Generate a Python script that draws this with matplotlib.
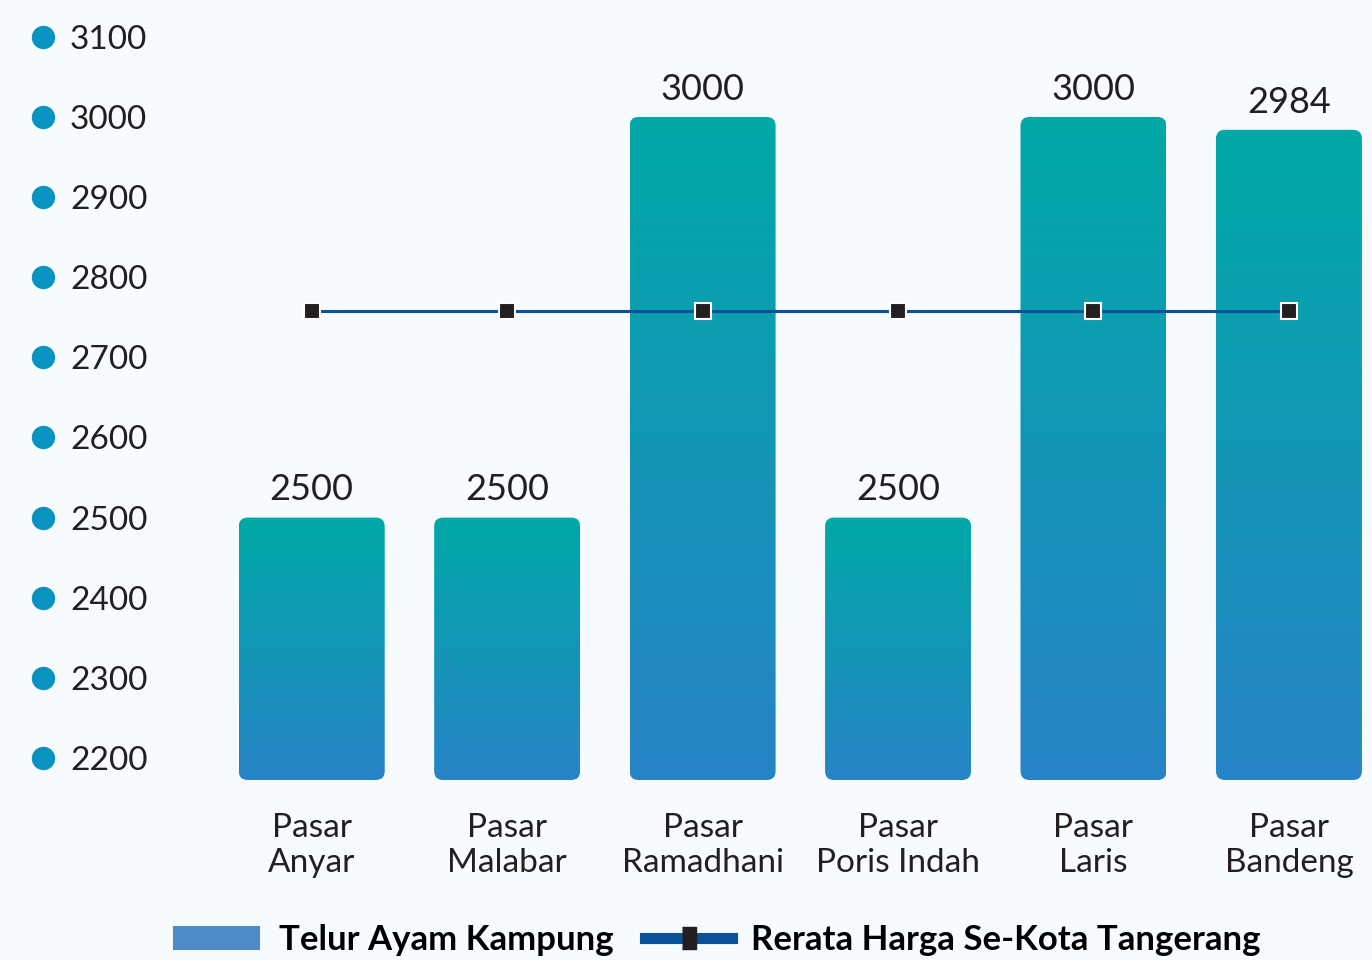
import matplotlib.pyplot as plt
import numpy as np
from matplotlib.colors import LinearSegmentedColormap
from matplotlib.patches import FancyBboxPatch, Patch
from matplotlib.lines import Line2D
from matplotlib.transforms import blended_transform_factory

markets = ['Pasar\nAnyar', 'Pasar\nMalabar', 'Pasar\nRamadhani', 'Pasar\nPoris Indah', 'Pasar\nLaris', 'Pasar\nBandeng']
prices = [2500, 2500, 3000, 2500, 3000, 2984]
city_avg = [2758, 2758, 2758, 2758, 2758, 2758]
yticks = [2200, 2300, 2400, 2500, 2600, 2700, 2800, 2900, 3000, 3100]

plt.rcParams['font.family'] = ['Lato', 'DejaVu Sans']

bg = '#f7fbfe'
W, H, dpi = 1372, 960, 100
fig = plt.figure(figsize=(W / dpi, H / dpi), dpi=dpi, facecolor=bg)
ax = fig.add_axes([214 / W, 1 - 780 / H, 1 - 214 / W, 780 / H])
ax.set_facecolor(bg)

x = np.arange(len(markets))
ax.set_xlim(-0.5, 5.425)
ax.set_ylim(2172.5, 3146)

bars = ax.bar(x, prices, width=0.747, color='none', edgecolor='none')
ymin = ax.get_ylim()[0]

# pixel scale, used for the rounded corners
px_x = ax.get_window_extent().width / (ax.get_xlim()[1] - ax.get_xlim()[0])
px_y = ax.get_window_extent().height / (ax.get_ylim()[1] - ax.get_ylim()[0])
r_px = 9
cmap = LinearSegmentedColormap.from_list('bar', ['#2783c6', '#00a9a7'])
grad = np.linspace(0, 1, 256).reshape(-1, 1)

for b, v in zip(bars, prices):
    x0, w = b.get_x(), b.get_width()
    patch = FancyBboxPatch((x0, ymin), w, v - ymin,
                           boxstyle='round,pad=0,rounding_size=%f' % (r_px / px_x),
                           mutation_aspect=px_x / px_y,
                           facecolor='none', edgecolor='none', transform=ax.transData)
    ax.add_patch(patch)
    im = ax.imshow(grad, cmap=cmap, origin='lower', aspect='auto',
                   extent=(x0, x0 + w, ymin, v), zorder=1)
    im.set_clip_path(patch)
    ax.annotate(str(v), (x0 + w / 2, v), xytext=(0, 8), textcoords='offset points',
                ha='center', va='bottom', fontsize=26, color='#231f20')

ax.plot(x, city_avg, color='#0b5197', lw=2.2, marker='s', markersize=11,
        markerfacecolor='#231f20', markeredgecolor='white', markeredgewidth=1.5, zorder=3)

ax.set_xlim(-0.5, 5.425)
ax.set_ylim(2172.5, 3146)

ax.set_xticks(x)
ax.set_xticklabels(markets, fontsize=24, color='#231f20', linespacing=1.2)
ax.tick_params(axis='x', length=0, pad=24)

ax.set_yticks(yticks)
ax.set_yticklabels([str(t) for t in yticks], fontsize=24, color='#231f20', ha='left')
ax.tick_params(axis='y', length=0, pad=(214 - 70) * 0.72)

tr = blended_transform_factory(fig.transFigure, ax.transData)
ax.scatter([43 / W] * len(yticks), yticks, s=250, color='#0a93bf', transform=tr, clip_on=False, zorder=5)

for s in ax.spines.values():
    s.set_visible(False)

bar_h = Patch(facecolor='#4f8ac8', label='Telur Ayam Kampung')
line_h = Line2D([], [], color='#0b5197', lw=8,
                marker=[(-0.3, -0.5), (0.3, -0.5), (0.3, 0.5), (-0.3, 0.5)],
                markersize=16, markerfacecolor='#231f20', markeredgecolor='#231f20',
                label='Rerata Harga Se-Kota Tangerang')
fig.legend(handles=[bar_h, line_h], loc='center', bbox_to_anchor=(717 / W, 1 - 940 / H),
           ncol=2, frameon=False, handlelength=2.5, columnspacing=0.9,
           handletextpad=0.55, prop={'size': 25, 'weight': 'bold'})

fig.savefig('out.png', dpi=dpi, facecolor=bg)
